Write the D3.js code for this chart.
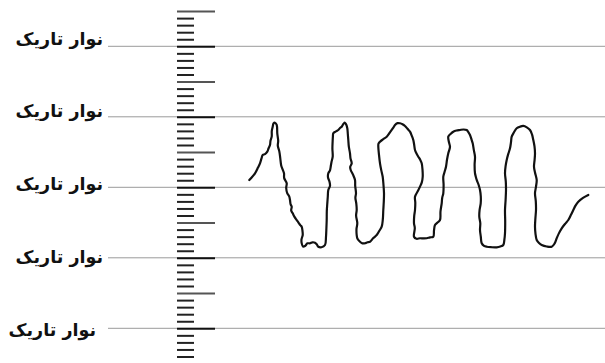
<!DOCTYPE html>
<html><head><meta charset="utf-8">
<script src="https://cdn.jsdelivr.net/npm/d3@7"></script>
<style>html,body{margin:0;padding:0;background:#fff;}svg{display:block;}</style>
</head><body>
<svg id="c" width="605" height="363"></svg>
<script>
// ---- data ----
const bandLabel = "نوار تاریک";
const bandValues = [10, 20, 30, 40, 50];          // ruler units where the dark bands are
const rulerTicks = d3.range(5, 56, 1);            // every ruler graduation
// hand-drawn trace as [x in trace units, y in ruler units]
const trace = [
[9.3,28.96],[15,28.01],[18,27.2],[20,26.6],[21.5,25.9],[22.7,25.42],[25,25.3],[27.3,24.95],[28.5,24.5],[30,24.0],[30.5,23.4],[31.7,22.82],[31.8,22.0],[32.7,21.40],[33.5,20.95],[35,20.84],[36.7,21.16],
[37.3,22.4],[38.2,23.4],[37.8,24.1],[39.3,24.9],[40.2,25.8],[41.2,26.9],[42.7,27.5],[44,28.01],[44.2,28.7],[46.7,29.43],[46.2,30.1],[47.3,30.85],[49.2,31.3],[50,31.8],[50.6,32.4],[51.7,32.75],[51.2,33.3],[52.7,33.69],[54.5,34.2],[56.7,34.64],[58.5,35.0],[60.5,35.4],[61.7,35.59],[62.5,36.2],[62.7,36.77],[61.5,37.4],[61.7,37.94],[63,38.4],[65,38.33],[67.5,37.95],[70,37.94],[72.5,37.8],[75,37.86],[76.8,38.1],[78.3,38.43],[81.5,38.5],[85,38.18],
[86,37.01],[86.4,35.8],[86.7,34.64],[86.8,33.4],[87.3,32.27],[87.8,31.3],[88.3,30.38],[90,29.8],[89.5,29.21],[88,28.6],[88.3,28.01],[90,27.6],[90.7,27.08],[91.5,26.4],[92.7,25.66],[92.4,24.5],[92.7,23.29],[92.9,22.8],[93.3,22.34],[95.5,22.1],[98.3,21.87],[100,21.6],[101.7,21.40],[103.5,21.0],[105,20.84],[106.2,21.1],[107.3,21.63],[107.8,22.4],[108.3,23.29],[108.8,24.2],[110,25.18],[110.5,25.9],[111.7,26.60],[110.2,27.1],[110.7,27.55],[113,28.2],[115,28.96],[115.2,29.8],[116,30.85],[115.4,31.5],[116.3,32.3],[116.7,33.22],[116.1,34.0],[117.3,35.11],[116.5,35.9],[116.7,36.77],[117.5,37.3],[120,37.72],[122.5,37.95],[125,37.94],[127.5,37.8],[130,37.72],[133.3,37.2],[136.7,36.77],[139.2,36.2],[141.7,35.59],
[142.8,34.6],[143.3,33.22],[143.8,32.0],[144,30.85],[143.5,29.7],[142.7,28.50],[141.3,27.6],[140,26.60],[139,25.4],[138.3,24.24],[138.5,23.8],[140,23.53],[143,23.2],[146.7,22.82],[149,22.4],[151.7,21.87],[153.5,21.5],[155,21.16],[157.5,20.9],[160,20.92],[162.5,21.05],[165,21.30],[167.5,21.7],[170,22.11],[171.8,22.7],[173.3,23.29],[174.2,24.0],[175,24.71],[176.5,25.2],[178.3,25.66],[180.2,26.1],[181.7,26.60],[182.5,27.5],[182.7,28.50],[181.8,29.3],[180,29.91],[178,30.5],[175,31.33],[175.3,32.2],[175,33.22],[174.2,34.1],[174,35.11],[174.8,35.8],[174,37.01],[176.5,37.3],[180,37.23],[183.5,37.25],[186.7,37.23],[190,37.1],[193.3,37.01],[194,36.1],[195,35.35],[197.5,35.0],[200,34.64],[200.5,33.4],[201.7,32.27],[202.2,31.5],[203.3,30.85],[203.6,29.7],[203.3,28.50],[204.6,27.8],[206,27.08],[207,26.1],[208.3,25.18],[209.3,24.7],[210,24.24],[208.8,23.5],[208.3,22.82],[210.8,22.4],[213.3,22.11],[216.5,21.95],[220,21.87],[223.5,21.8],[226.7,21.87],[228.5,22.2],[230,22.58],[231.5,23.2],[232.7,23.76],[233.8,24.7],[235,25.66],[234.6,26.8],[235,28.01],[235.8,28.5],[236.7,28.96],[238.5,29.6],[240,30.38],[240.8,31.3],[240.7,32.27],[239.6,33.2],[239.3,34.17],[240.3,35.1],[240,36.06],[240.8,37.0],[241.7,37.94],[244,38.3],[246.7,38.43],[251.5,38.5],[256.7,38.51],[260.3,38.4],[263.3,38.18],
[264.4,37.4],[265,36.52],[265.2,34.9],[265,33.22],[265.6,31.8],[266,30.38],[265.8,29.2],[265,28.01],[265.6,27.0],[266.7,26.13],[268.2,25.3],[270,24.47],[271,23.6],[271.7,22.82],[274,22.2],[276.7,21.63],[280,21.4],[283.3,21.30],[286.8,21.5],[290,21.87],[292,22.5],[293.3,23.29],[294.5,24.2],[295,25.18],[294.6,26.1],[294,27.08],[295,27.9],[296.7,28.96],[296,29.9],[295,30.85],[295.8,32.0],[296,33.22],[295.4,34.4],[295,35.59],[295.5,36.6],[296.7,37.48],[299,37.9],[301.7,38.18],[306.7,38.4],[311.7,38.43],[314.5,38.0],[316.7,37.23],[319,36.5],[321.7,35.82],[325,35.2],[328.3,34.64],[331,33.9],[333.3,33.22],[335.5,32.6],[338.3,32.04],[343,31.5],[348.3,31.09]
];

// ---- chart ----
const svg = d3.select("#c");
const y = d3.scaleLinear().domain([10, 50]).range([46.3, 328.3]);
const x = d3.scaleLinear().domain([0, 360]).range([240, 600]);

// band lines
svg.append("g").selectAll("line").data(bandValues).join("line")
  .attr("x1", 108).attr("x2", 605)
  .attr("y1", d => y(d)).attr("y2", d => y(d))
  .attr("stroke", "#9a9a9a").attr("stroke-width", 1);

// ruler via axis
const axis = d3.axisRight(y).tickValues(rulerTicks).tickFormat("").tickSize(17);
const rg = svg.append("g").attr("transform", "translate(177,0)").call(axis);
rg.select(".domain").remove();
rg.selectAll(".tick line")
  .attr("stroke", d => d % 10 === 0 ? "#111" : (d % 5 === 0 ? "#555" : "#222"))
  .attr("stroke-width", 2)
  .attr("x2", d => d % 5 === 0 ? 38 : 17);

// labels
const nudgeY = [-1, 0, 3, 5, 8];
const endX = [103, 103, 103, 103, 96];
svg.append("g").selectAll("text").data(bandValues).join("text")
  .attr("x", (d, i) => endX[i])
  .attr("y", (d, i) => y(d) + nudgeY[i])
  .attr("text-anchor", "end")
  .attr("font-family", "DejaVu Sans")
  .attr("font-weight", "bold")
  .attr("font-size", 17.5)
  .attr("fill", "#111")
  .text(bandLabel);

// trace
svg.append("path").datum(trace)
  .attr("d", d3.line().x(d => x(d[0])).y(d => y(d[1])).curve(d3.curveCatmullRom))
  .attr("fill", "none").attr("stroke", "#111").attr("stroke-width", 2.2)
  .attr("stroke-linejoin", "round").attr("stroke-linecap", "round");
</script>
</body></html>
